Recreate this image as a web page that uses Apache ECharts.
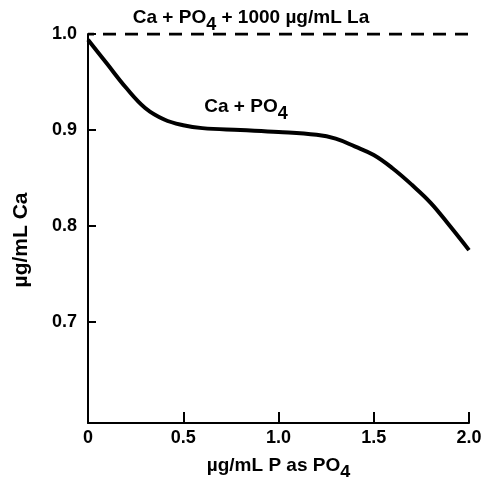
<!DOCTYPE html>
<html><head><meta charset="utf-8">
<script src="https://cdn.jsdelivr.net/npm/echarts@6/dist/echarts.min.js"></script>
<style>html,body{margin:0;padding:0;background:#fff}#c{width:483px;height:477px}</style>
</head><body><div id="c"></div>
<script>
const xValues = [0, 0.1, 0.2, 0.3, 0.4, 0.5, 0.6, 0.8, 1.0, 1.2, 1.3, 1.4, 1.5, 1.6, 1.7, 1.8, 1.9, 2.0];
const caPO4 = [0.994, 0.969, 0.944, 0.923, 0.911, 0.905, 0.902, 0.900, 0.898, 0.895, 0.891, 0.883, 0.874, 0.860, 0.843, 0.824, 0.800, 0.775];
const laX = [0, 2.0];
const laY = [1.0, 1.0];
const xTicks = [0, 0.5, 1.0, 1.5, 2.0];
const yTicks = [0.7, 0.8, 0.9, 1.0];

const FONT = 'Liberation Sans';
const FS = 19;
const lbl = {fontFamily: FONT, fontWeight: 'bold', fontSize: FS, color: '#000'};
const sub = {fontFamily: FONT, fontWeight: 'bold', fontSize: FS - 1, color: '#000', verticalAlign: 'bottom', padding: [0,0,-7,0]};

const chart = echarts.init(document.getElementById('c'));
chart.setOption({
  animation: false,
  grid: {left: 88, right: 14, top: 34, bottom: 54, outerBoundsMode: 'none', containLabel: false},
  title: [
    {text: '{a|Ca + PO}{s|4}{a| + 1000 µg/mL La}', left: 251, top: 8, textAlign: 'center', padding: 0,
     textStyle: {rich: {a: lbl, s: sub}}},
    {text: '{a|Ca + PO}{s|4}', left: 246, top: 97, textAlign: 'center', padding: 0,
     textStyle: {rich: {a: lbl, s: sub}}}
  ],
  graphic: [
    {type: 'text', x: 21, y: 240, rotation: Math.PI / 2,
     style: {text: 'µg/mL Ca', fontFamily: FONT, fontWeight: 'bold', fontSize: 21, fill: '#000',
       align: 'center', verticalAlign: 'middle'}}
  ],
  xAxis: {
    type: 'value', min: 0, max: 2.0,
    axisLine: {show: true, onZero: false, lineStyle: {color: '#000', width: 2}},
    axisTick: {show: true, inside: true, length: 11, lineStyle: {color: '#000', width: 2}, customValues: xTicks},
    axisLabel: {show: true, color: '#000', fontFamily: FONT, fontWeight: 'bold', fontSize: 18, margin: 6,
      customValues: xTicks, formatter: v => v === 0 ? '0' : v.toFixed(1)},
    splitLine: {show: false},
    name: '{a|µg/mL P as PO}{s|4}', nameLocation: 'middle', nameGap: 33,
    nameTextStyle: {rich: {a: lbl, s: sub}}
  },
  yAxis: {
    type: 'value', min: 0.595, max: 1.0,
    axisLine: {show: true, onZero: false, lineStyle: {color: '#000', width: 2}},
    axisTick: {show: true, inside: true, length: 8, lineStyle: {color: '#000', width: 2}, customValues: yTicks},
    axisLabel: {show: true, color: '#000', fontFamily: FONT, fontWeight: 'bold', fontSize: 18, margin: 11,
      customValues: yTicks, formatter: v => v.toFixed(1)},
    splitLine: {show: false}
  },
  series: [
    {type: 'line', data: laX.map((x, i) => [x, laY[i]]), symbol: 'none',
     lineStyle: {color: '#000', width: 3, type: [13, 9], dashOffset: 7}},
    {type: 'line', data: xValues.map((x, i) => [x, caPO4[i]]), symbol: 'none', smooth: 0.4,
     lineStyle: {color: '#000', width: 4}}
  ]
});
</script></body></html>
